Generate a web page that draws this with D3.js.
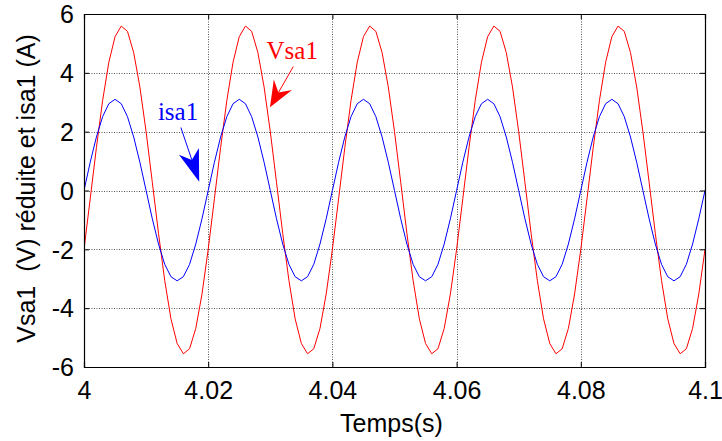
<!DOCTYPE html>
<html>
<head>
<meta charset="utf-8">
<script src="https://cdn.jsdelivr.net/npm/d3@7"></script>
<style>
  body { margin: 0; background: #fff; }
  svg text { font-family: Arial, "Liberation Sans", sans-serif; white-space: pre; }
</style>
</head>
<body>
<div id="chart"></div>
<script>
// sample times (s)
const time = [
    4.000, 4.001, 4.002, 4.003, 4.004, 4.005, 4.006, 4.007, 4.008, 4.009,
    4.010, 4.011, 4.012, 4.013, 4.014, 4.015, 4.016, 4.017, 4.018, 4.019,
    4.020, 4.021, 4.022, 4.023, 4.024, 4.025, 4.026, 4.027, 4.028, 4.029,
    4.030, 4.031, 4.032, 4.033, 4.034, 4.035, 4.036, 4.037, 4.038, 4.039,
    4.040, 4.041, 4.042, 4.043, 4.044, 4.045, 4.046, 4.047, 4.048, 4.049,
    4.050, 4.051, 4.052, 4.053, 4.054, 4.055, 4.056, 4.057, 4.058, 4.059,
    4.060, 4.061, 4.062, 4.063, 4.064, 4.065, 4.066, 4.067, 4.068, 4.069,
    4.070, 4.071, 4.072, 4.073, 4.074, 4.075, 4.076, 4.077, 4.078, 4.079,
    4.080, 4.081, 4.082, 4.083, 4.084, 4.085, 4.086, 4.087, 4.088, 4.089,
    4.090, 4.091, 4.092, 4.093, 4.094, 4.095, 4.096, 4.097, 4.098, 4.099,
    4.100
];

// Vsa1 réduite (V)
const vsa1 = [
    -2.00, -0.28, 1.46, 3.06, 4.36, 5.23, 5.59, 5.41, 4.69, 3.52,
    2.00, 0.28, -1.46, -3.06, -4.36, -5.20, -5.55, -5.38, -4.69, -3.52,
    -2.00, -0.28, 1.46, 3.06, 4.36, 5.23, 5.59, 5.41, 4.69, 3.52,
    2.00, 0.28, -1.46, -3.06, -4.36, -5.20, -5.55, -5.38, -4.69, -3.52,
    -2.00, -0.28, 1.46, 3.06, 4.36, 5.23, 5.59, 5.41, 4.69, 3.52,
    2.00, 0.28, -1.46, -3.06, -4.36, -5.20, -5.55, -5.38, -4.69, -3.52,
    -2.00, -0.28, 1.46, 3.06, 4.36, 5.23, 5.59, 5.41, 4.69, 3.52,
    2.00, 0.28, -1.46, -3.06, -4.36, -5.20, -5.55, -5.38, -4.69, -3.52,
    -2.00, -0.28, 1.46, 3.06, 4.36, 5.23, 5.59, 5.41, 4.69, 3.52,
    2.00, 0.28, -1.46, -3.06, -4.36, -5.20, -5.55, -5.38, -4.69, -3.52,
    -2.00
];

// isa1 (A)
const isa1 = [
    0.00, 0.96, 1.82, 2.51, 2.95, 3.10, 2.95, 2.51, 1.82, 0.96,
    0.00, -0.96, -1.82, -2.51, -2.93, -3.07, -2.93, -2.51, -1.82, -0.96,
    0.00, 0.96, 1.82, 2.51, 2.95, 3.10, 2.95, 2.51, 1.82, 0.96,
    0.00, -0.96, -1.82, -2.51, -2.93, -3.07, -2.93, -2.51, -1.82, -0.96,
    0.00, 0.96, 1.82, 2.51, 2.95, 3.10, 2.95, 2.51, 1.82, 0.96,
    0.00, -0.96, -1.82, -2.51, -2.93, -3.07, -2.93, -2.51, -1.82, -0.96,
    0.00, 0.96, 1.82, 2.51, 2.95, 3.10, 2.95, 2.51, 1.82, 0.96,
    0.00, -0.96, -1.82, -2.51, -2.93, -3.07, -2.93, -2.51, -1.82, -0.96,
    0.00, 0.96, 1.82, 2.51, 2.95, 3.10, 2.95, 2.51, 1.82, 0.96,
    0.00, -0.96, -1.82, -2.51, -2.93, -3.07, -2.93, -2.51, -1.82, -0.96,
    0.00
];

const xTicks = [4, 4.02, 4.04, 4.06, 4.08, 4.1];
const yTicks = [-6, -4, -2, 0, 2, 4, 6];

// text annotations with arrows, in data units
const notes = [
    {label: "Vsa1", color: "#ff0000", tx: 4.0294, ty: 4.47, from: [4.0337, 4.21], to: [4.02995, 2.83], head: 26},
    {label: "isa1", color: "#0000ff", tx: 4.0119, ty: 2.40, from: [4.0156, 2.14], to: [4.01855, 0.30], head: 32}
];

const width = 722, height = 441;
const margin = {top: 14, right: 17, bottom: 74, left: 84};

const svg = d3.select("#chart").append("svg")
    .attr("width", width)
    .attr("height", height);

const x = d3.scaleLinear().domain([4, 4.1]).range([margin.left, width - margin.right]);
const y = d3.scaleLinear().domain([-6, 6]).range([height - margin.bottom, margin.top]);

// grid (dotted, like matlab)
const grid = svg.append("g").attr("class", "grid")
    .attr("stroke", "#555")
    .attr("stroke-width", 1)
    .attr("stroke-dasharray", "1,1.5");
grid.selectAll("line.gx").data(xTicks.slice(1, -1)).join("line")
    .attr("class", "gx")
    .attr("x1", d => Math.round(x(d)) + 0.5).attr("x2", d => Math.round(x(d)) + 0.5)
    .attr("y1", y(6)).attr("y2", y(-6));
grid.selectAll("line.gy").data(yTicks.slice(1, -1)).join("line")
    .attr("class", "gy")
    .attr("y1", d => Math.round(y(d)) + 0.5).attr("y2", d => Math.round(y(d)) + 0.5)
    .attr("x1", x(4)).attr("x2", x(4.1));

// curves
svg.append("clipPath").attr("id", "clip")
    .append("rect")
    .attr("x", margin.left).attr("y", margin.top)
    .attr("width", width - margin.left - margin.right)
    .attr("height", height - margin.top - margin.bottom);

const line = d3.line()
    .x(d => x(d[0]))
    .y(d => y(d[1]));

const curves = svg.append("g").attr("clip-path", "url(#clip)");
curves.append("path")
    .datum(time.map((t, i) => [t, vsa1[i]]))
    .attr("fill", "none")
    .attr("stroke", "#ff0000")
    .attr("stroke-width", 1)
    .attr("d", line);
curves.append("path")
    .datum(time.map((t, i) => [t, isa1[i]]))
    .attr("fill", "none")
    .attr("stroke", "#0000ff")
    .attr("stroke-width", 1)
    .attr("d", line);

// axes, ticks inward on all four sides
const tickLen = 5;
const fmt = d => String(d); // plain hyphen like matlab

const xBottom = svg.append("g")
    .attr("transform", `translate(0,${y(-6)})`)
    .call(d3.axisBottom(x).tickValues(xTicks).tickSize(-tickLen).tickPadding(14).tickFormat(fmt));
const xTop = svg.append("g")
    .attr("transform", `translate(0,${y(6)})`)
    .call(d3.axisTop(x).tickValues(xTicks).tickSize(-tickLen).tickFormat(""));
const yLeft = svg.append("g")
    .attr("transform", `translate(${x(4)},0)`)
    .call(d3.axisLeft(y).tickValues(yTicks).tickSize(-tickLen).tickPadding(10).tickFormat(fmt));
const yRight = svg.append("g")
    .attr("transform", `translate(${x(4.1)},0)`)
    .call(d3.axisRight(y).tickValues(yTicks).tickSize(-tickLen).tickFormat(""));

[xBottom, xTop, yLeft, yRight].forEach(g => {
    g.select(".domain").attr("stroke", "#000").attr("stroke-width", 1.2);
    g.selectAll(".tick line").attr("stroke", "#000");
    g.selectAll("text")
        .attr("fill", "#000")
        .style("font-size", "25px")
        .style("font-family", "Arial, 'Liberation Sans', sans-serif");
});
yLeft.selectAll("text").attr("dy", "0.35em");

// axis titles
svg.append("text")
    .attr("x", (x(4) + x(4.1)) / 2 - 3)
    .attr("y", 432)
    .attr("text-anchor", "middle")
    .style("font-size", "25px")
    .text("Temps(s)");

svg.append("text")
    .attr("transform", `translate(35,${(y(6) + y(-6)) / 2 - 2}) rotate(-90)`)
    .attr("text-anchor", "middle")
    .style("font-size", "25px")
    .text("Vsa1  (V) réduite et isa1 (A)");

// annotations
const ann = svg.append("g");
notes.forEach(n => {
    ann.append("text")
        .attr("x", x(n.tx))
        .attr("y", y(n.ty))
        .attr("fill", n.color)
        .style("font-family", "'Liberation Serif', 'Times New Roman', serif")
        .style("font-size", "25px")
        .text(n.label);

    const x0 = x(n.from[0]), y0 = y(n.from[1]);
    const x1 = x(n.to[0]), y1 = y(n.to[1]);
    const ang = Math.atan2(y1 - y0, x1 - x0);
    const headLen = n.head, halfW = 10.5, notch = 9;
    const bx = x1 - headLen * Math.cos(ang), by = y1 - headLen * Math.sin(ang);
    const px = -Math.sin(ang), py = Math.cos(ang);
    const nx = x1 - (headLen - notch) * Math.cos(ang), ny = y1 - (headLen - notch) * Math.sin(ang);

    ann.append("line")
        .attr("x1", x0).attr("y1", y0)
        .attr("x2", nx).attr("y2", ny)
        .attr("stroke", n.color)
        .attr("stroke-width", 1);
    ann.append("path")
        .attr("d", `M${x1},${y1}L${bx + px * halfW},${by + py * halfW}L${nx},${ny}L${bx - px * halfW},${by - py * halfW}Z`)
        .attr("fill", n.color);
});
</script>
</body>
</html>
